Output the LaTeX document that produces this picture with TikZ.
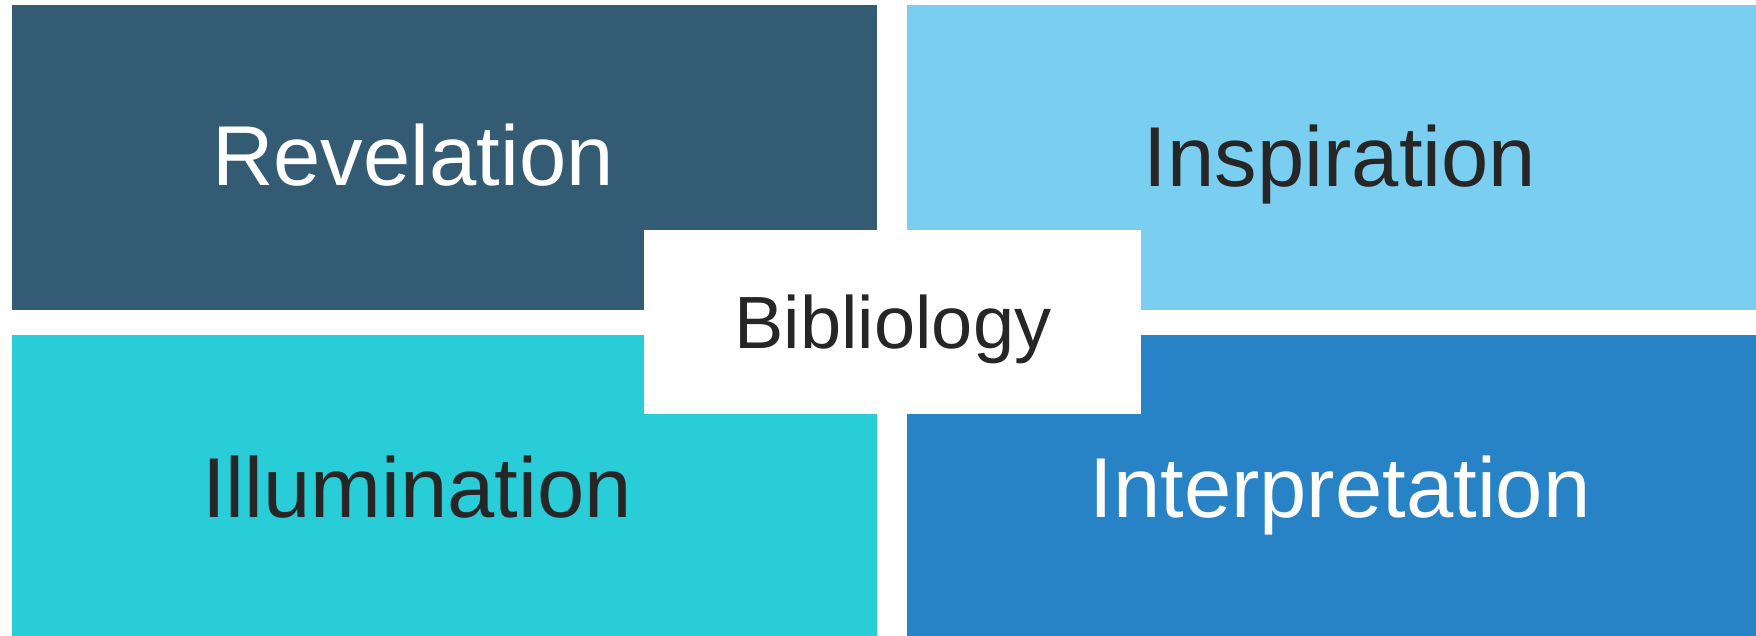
\documentclass[tikz,border=0pt]{standalone}
\usepackage{fontspec}
\setmainfont{Liberation Sans}
\definecolor{cRev}{RGB}{52,91,116}
\definecolor{cIns}{RGB}{122,206,240}
\definecolor{cIll}{RGB}{40,205,215}
\definecolor{cInt}{RGB}{40,131,198}
\definecolor{cTxt}{RGB}{38,38,38}
\tikzset{
  tile/.style={draw=none, inner sep=0pt, outer sep=0pt},
  bigtxt/.style={anchor=base, inner sep=0pt, font=\fontsize{85}{90}\selectfont},
  hubtxt/.style={anchor=base, inner sep=0pt, font=\fontsize{74}{80}\selectfont, text=cTxt}
}
\begin{document}
\begin{tikzpicture}[x=1pt,y=-1pt]
\useasboundingbox[fill=white] (0,0) rectangle (1756,636);
\fill[cRev] (12,5) rectangle (877,310);
\fill[cIns] (907,5) rectangle (1756,310);
\fill[cIll] (12,335) rectangle (877,636);
\fill[cInt] (907,335) rectangle (1756,636);
\fill[white] (644,230) rectangle (1141,414);
\node[bigtxt, text=white] (rev) at (413,186) {Revelation};
\node[bigtxt, text=cTxt] (ins) at (1340,187) {Inspiration};
\node[bigtxt, text=cTxt] (ill) at (417,517) {Illumination};
\node[bigtxt, text=white] (int) at (1340,517) {Interpretation};
\node[hubtxt] (bib) at (893,348) {Bibliology};
\end{tikzpicture}
\end{document}
